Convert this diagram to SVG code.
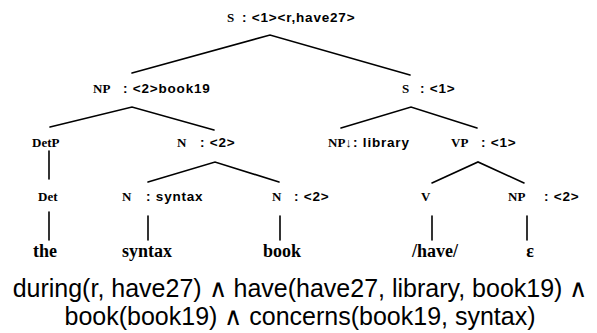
<svg xmlns="http://www.w3.org/2000/svg" width="597" height="333" viewBox="0 0 597 333">
<style>
.cat{font-family:"Liberation Serif","Times New Roman",serif;font-weight:bold;font-size:13px;fill:#000}
.ft{font-family:"Liberation Sans",Arial,sans-serif;font-weight:bold;font-size:13.5px;letter-spacing:0.8px;fill:#000}
.leaf{font-family:"Liberation Serif","Times New Roman",serif;font-weight:bold;font-size:18px;fill:#000}
.formula{font-family:"Liberation Sans",Arial,sans-serif;font-size:25px;fill:#000}
.edge{stroke:#000;stroke-width:1.6;fill:none;stroke-linecap:round}
</style>
<rect width="597" height="333" fill="#fff"/>
<g id="connectors">
<path class="edge" d="M132,73 L270,35 L410,75"/>
<path class="edge" d="M50,127 L132,107 L214,130"/>
<path class="edge" d="M341,128 L411,107 L477,128"/>
<path class="edge" d="M49,151 L49,179"/>
<path class="edge" d="M148,182 L215,162 L279,182"/>
<path class="edge" d="M432,183 L478,162 L524,183"/>
<path class="edge" d="M49,212 L49,240"/>
<path class="edge" d="M148,216 L148,240"/>
<path class="edge" d="M280,216 L280,240"/>
<path class="edge" d="M432,216 L432,240"/>
<path class="edge" d="M527,216 L527,240"/>
</g>
<g id="n-root"><text class="cat" x="227" y="22">S</text><text class="ft" x="242" y="22">: &lt;1&gt;&lt;r,have27&gt;</text></g>
<g id="n-np"><text class="cat" x="93" y="93">NP</text><text class="ft" x="123" y="93">: &lt;2&gt;book19</text></g>
<g id="n-s"><text class="cat" x="402" y="93">S</text><text class="ft" x="420" y="93">: &lt;1&gt;</text></g>
<g id="n-detp"><text class="cat" x="32" y="147">DetP</text></g>
<g id="n-n2"><text class="cat" x="177" y="147">N</text><text class="ft" x="200" y="147">: &lt;2&gt;</text></g>
<g id="n-npsubst"><text class="cat" x="328" y="147">NP↓</text><text class="ft" x="353" y="147">: library</text></g>
<g id="n-vp"><text class="cat" x="451" y="147">VP</text><text class="ft" x="481" y="147">: &lt;1&gt;</text></g>
<g id="n-det"><text class="cat" x="38" y="201">Det</text></g>
<g id="n-nsyntax"><text class="cat" x="122" y="201">N</text><text class="ft" x="146" y="201">: syntax</text></g>
<g id="n-nbook"><text class="cat" x="272" y="201">N</text><text class="ft" x="294" y="201">: &lt;2&gt;</text></g>
<g id="n-v"><text class="cat" x="421" y="201">V</text></g>
<g id="n-np2"><text class="cat" x="508" y="201">NP</text><text class="ft" x="544" y="201">: &lt;2&gt;</text></g>
<g id="leaf-the"><text class="leaf" x="45" y="257" text-anchor="middle">the</text></g>
<g id="leaf-syntax"><text class="leaf" x="147" y="257" text-anchor="middle">syntax</text></g>
<g id="leaf-book"><text class="leaf" x="282" y="257" text-anchor="middle">book</text></g>
<g id="leaf-have"><text class="leaf" x="435" y="257" text-anchor="middle">/have/</text></g>
<g id="leaf-eps"><text class="leaf" x="530" y="257" text-anchor="middle">ε</text></g>
<g id="formula">
<text class="formula" x="300" y="297" text-anchor="middle">during(r, have27) ∧ have(have27, library, book19) ∧</text>
<text class="formula" x="300" y="325" text-anchor="middle">book(book19) ∧ concerns(book19, syntax)</text>
</g>
</svg>
